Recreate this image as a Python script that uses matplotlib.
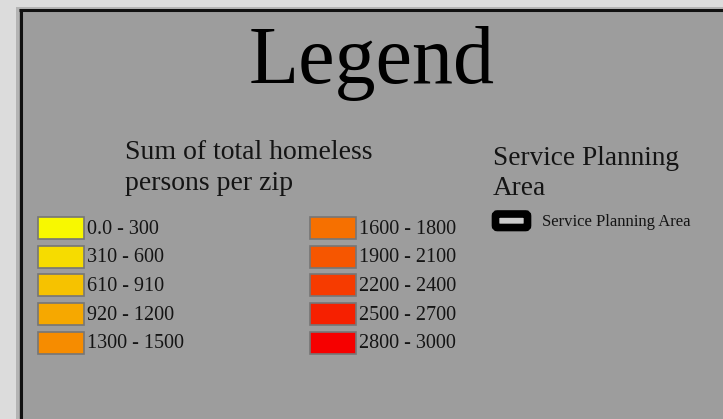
import matplotlib
matplotlib.use("Agg")
import matplotlib.pyplot as plt
from matplotlib.patches import Rectangle, FancyBboxPatch

# ---- data ----
title = "Legend"
class_title = ["Sum of total homeless", "persons per zip"]
class_labels = ["0.0 - 300", "310 - 600", "610 - 910", "920 - 1200", "1300 - 1500",
                "1600 - 1800", "1900 - 2100", "2200 - 2400", "2500 - 2700", "2800 - 3000"]
class_colors = ["#f8f800", "#f6dc00", "#f6c200", "#f6a800", "#f68c00",
                "#f67000", "#f65600", "#f63b00", "#f62000", "#f60000"]
spa_title = ["Service Planning", "Area"]
spa_label = "Service Planning Area"

W, H = 723, 419
fig = plt.figure(figsize=(W / 100, H / 100), dpi=100)
fig.patch.set_facecolor("#dcdcdc")
ax = fig.add_axes([0, 0, 1, 1])
ax.set_xlim(0, W)
ax.set_ylim(H, 0)
ax.axis("off")

serif = ["Liberation Serif", "DejaVu Serif"]
tc = "#141414"

# panel background + black top/left border
ax.add_patch(Rectangle((16, 7), W - 16, H - 7, facecolor="#b4b4b4", edgecolor="none"))
ax.add_patch(Rectangle((19, 9), W - 19, H - 9, facecolor="#9d9d9d", edgecolor="none"))
ax.plot([20.5, 20.5], [H, 10], color="#111111", lw=2.2, solid_capstyle="butt")
ax.plot([19, W], [10, 10], color="#111111", lw=2.2, solid_capstyle="butt")

# title
ax.text(372, 83, title, fontsize=59, family=serif, color="#000000",
        ha="center", va="baseline")

# class title
for k, line in enumerate(class_title):
    ax.text(125, 159 + k * 31, line, fontsize=20, family=serif, color=tc,
            ha="left", va="baseline")

# swatches
col_x = [38, 310]
row_y0, row_dy = 217, 28.7
sw_w, sw_h = 46, 22
for i, (lab, col) in enumerate(zip(class_labels, class_colors)):
    c, r = divmod(i, 5)
    x = col_x[c]
    y = row_y0 + r * row_dy
    ax.add_patch(Rectangle((x, y), sw_w, sw_h, facecolor=col,
                           edgecolor="#767676", lw=1.2))
    ax.text(x + sw_w + 3, y + sw_h / 2 + 1, lab, fontsize=14.5, family=serif,
            color=tc, ha="left", va="center")

# service planning area
for k, line in enumerate(spa_title):
    ax.text(493, 165 + k * 30, line, fontsize=19.6, family=serif, color=tc,
            ha="left", va="baseline")
ax.add_patch(FancyBboxPatch((495.5, 214), 32, 13.5, boxstyle="round,pad=0,rounding_size=2",
                            facecolor="#cccccc", edgecolor="#000000", lw=5.5))
ax.text(542, 222, spa_label, fontsize=12, family=serif, color=tc,
        ha="left", va="center")

fig.savefig("out.png", dpi=100, facecolor=fig.get_facecolor())
